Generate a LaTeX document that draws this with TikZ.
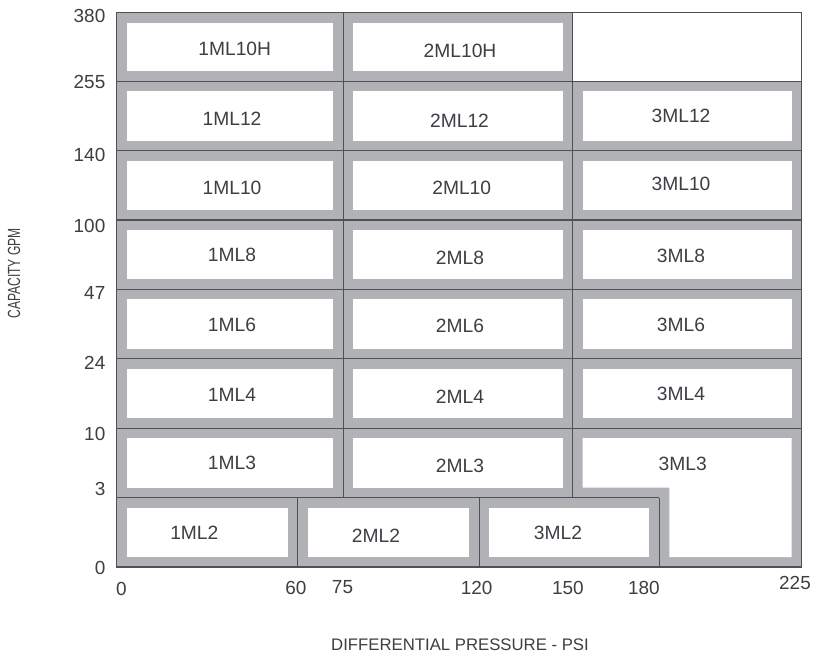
\documentclass[tikz,border=0pt]{standalone}
\usepackage{fontspec}
\setmainfont{Liberation Sans}
\definecolor{cellgray}{HTML}{B1B2B6}
\definecolor{linegray}{HTML}{4F4F55}
\definecolor{txtgray}{HTML}{3E3E44}
\newcommand\mlcell[4]{%
  \fill[cellgray] (#1,#2) rectangle (#3,#4);
  \fill[white] ([shift={(10,10)}]#1,#2) rectangle ([shift={(-10,-10)}]#3,#4);}
\begin{document}
\begin{tikzpicture}[x=1bp,y=-1bp,
  lbl/.style={text=txtgray,font=\fontsize{19.3}{21}\selectfont,inner sep=0pt},
  ticklbl/.style={text=txtgray,font=\fontsize{19}{21}\selectfont,inner sep=0pt},
  ttl/.style={text=txtgray,font=\fontsize{16.8}{18}\selectfont,inner sep=0pt},
  divider/.style={draw=linegray,line width=1.1bp}]
\useasboundingbox (0,0) rectangle (814,655);
\fill[white] (0,0) rectangle (814,655);
% rows 0..6, columns 1 and 2
\foreach \ya/\yb in {12.7/81.3,81.3/150.7,150.7/220,220/289.3,289.3/358.7,358.7/428.2,428.2/497.6}{
  \mlcell{116.5}{\ya}{343.3}{\yb}
  \mlcell{343.3}{\ya}{572.5}{\yb}}
% column 3, rows 1..5
\foreach \ya/\yb in {81.3/150.7,150.7/220,220/289.3,289.3/358.7,358.7/428.2}{
  \mlcell{572.5}{\ya}{801.7}{\yb}}
% L-shaped 3ML3
\fill[cellgray] (572.5,428.2) -- (801.7,428.2) -- (801.7,567) -- (659.3,567) -- (659.3,497.6) -- (572.5,497.6) -- cycle;
\fill[white] (582.5,438.2) -- (791.7,438.2) -- (791.7,557) -- (669.3,557) -- (669.3,487.6) -- (582.5,487.6) -- cycle;
% bottom row
\mlcell{116.5}{497.6}{297.7}{567}
\mlcell{297.7}{497.6}{479.3}{567}
\mlcell{479.3}{497.6}{659.3}{567}
% dividers
\draw[divider] (116.5,12.7) rectangle (801.7,567);
\foreach \yy in {81.3,150.7,220,289.3,358.7,428.2}{
  \draw[divider] (116.5,\yy) -- (801.7,\yy);}
\draw[divider] (116.5,497.6) -- (659.3,497.6);
\draw[divider] (343.3,12.7) -- (343.3,497.6);
\draw[divider] (572.5,12.7) -- (572.5,497.6);
\foreach \xx in {297.7,479.3,659.3}{
  \draw[divider] (\xx,497.6) -- (\xx,567);}
% cell labels
\node[lbl] (a1) at (234.7,48.7) {1ML10H};
\node[lbl] (a2) at (460,50.5) {2ML10H};
\node[lbl] (b1) at (232,118.8) {1ML12};
\node[lbl] (b2) at (459.5,121) {2ML12};
\node[lbl] (b3) at (681,115.5) {3ML12};
\node[lbl] (c1) at (232,188) {1ML10};
\node[lbl] (c2) at (461.7,187.5) {2ML10};
\node[lbl] (c3) at (681,184) {3ML10};
\node[lbl] (d1) at (232,255) {1ML8};
\node[lbl] (d2) at (460,257.5) {2ML8};
\node[lbl] (d3) at (681,255.5) {3ML8};
\node[lbl] (e1) at (232,325) {1ML6};
\node[lbl] (e2) at (460,325.5) {2ML6};
\node[lbl] (e3) at (681,324.5) {3ML6};
\node[lbl] (f1) at (232,395) {1ML4};
\node[lbl] (f2) at (460,397) {2ML4};
\node[lbl] (f3) at (681,394) {3ML4};
\node[lbl] (g1) at (232,463) {1ML3};
\node[lbl] (g2) at (460,466) {2ML3};
\node[lbl] (g3) at (682.7,464) {3ML3};
\node[lbl] (h1) at (194.3,532.5) {1ML2};
\node[lbl] (h2) at (376,535.5) {2ML2};
\node[lbl] (h3) at (558,532.5) {3ML2};
% y tick labels
\node[ticklbl,anchor=east] (y380) at (105.5,16.3) {380};
\node[ticklbl,anchor=east] (y255) at (105.5,81.7) {255};
\node[ticklbl,anchor=east] (y140) at (105.5,154.5) {140};
\node[ticklbl,anchor=east] (y100) at (105.5,226) {100};
\node[ticklbl,anchor=east] (y47) at (105.5,293.3) {47};
\node[ticklbl,anchor=east] (y24) at (105.5,363.3) {24};
\node[ticklbl,anchor=east] (y10) at (105.5,433.5) {10};
\node[ticklbl,anchor=east] (y3) at (105.5,488.8) {3};
\node[ticklbl,anchor=east] (y0) at (105.5,568) {0};
% x tick labels
\node[ticklbl] (x0) at (121.3,589) {0};
\node[ticklbl] (x60) at (295.8,587.5) {60};
\node[ticklbl] (x75) at (342.5,587.5) {75};
\node[ticklbl] (x120) at (476.7,587.5) {120};
\node[ticklbl] (x150) at (567.8,587.5) {150};
\node[ticklbl] (x180) at (643.8,587.5) {180};
\node[ticklbl] (x225) at (795,582.5) {225};
% axis titles
\node[ttl] (xt) at (460,644.5) {DIFFERENTIAL PRESSURE - PSI};
\node[ttl,rotate=90] (yt) at (14,273.3) {\scalebox{0.72}[1.05]{CAPACITY GPM}};
\end{tikzpicture}
\end{document}
